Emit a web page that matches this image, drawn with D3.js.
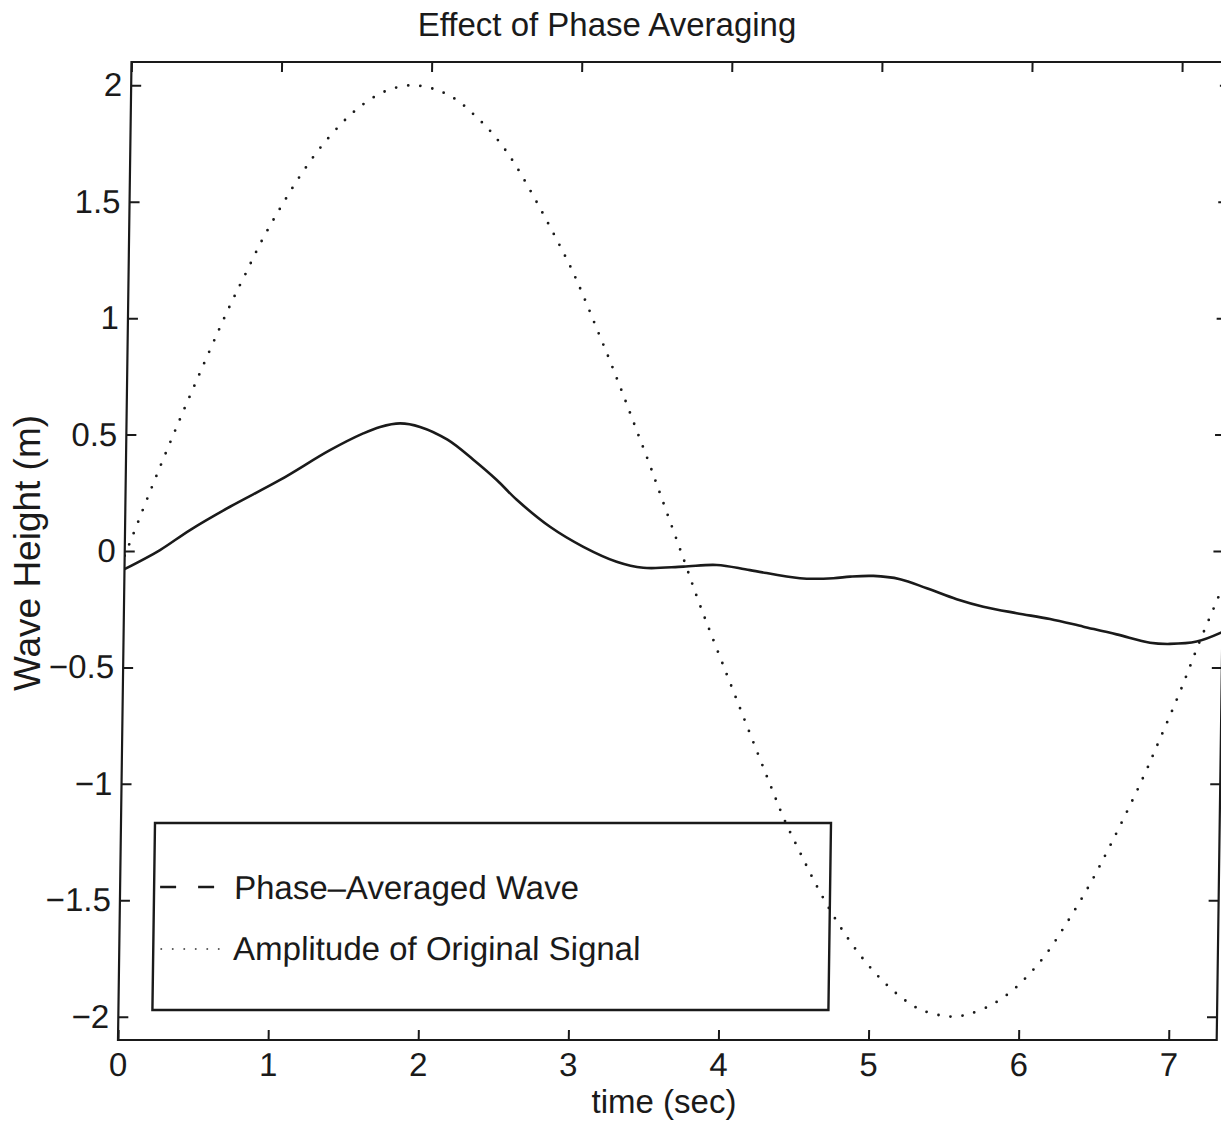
<!DOCTYPE html>
<html>
<head>
<meta charset="utf-8">
<script src="https://cdn.jsdelivr.net/npm/d3@7"></script>
<style>
  html, body { margin: 0; padding: 0; background: #ffffff; }
</style>
</head>
<body>
<svg id="chart" width="1221" height="1127"></svg>
<script>
// ---------------- data ----------------
const titleText = "Effect of Phase Averaging";
const xLabelText = "time (sec)";
const yLabelText = "Wave Height (m)";
const seriesNames = ["Phase\u2013Averaged Wave", "Amplitude of Original Signal"];

const xTicks = [0, 1, 2, 3, 4, 5, 6, 7];
const yTicks = [-2, -1.5, -1, -0.5, 0, 0.5, 1, 1.5, 2];
const xDomain = [0, 7.32];
const yDomain = [-2.1, 2.1];

// Phase-averaged wave (solid line)
const avgTime = [0.00, 0.235, 0.433, 0.697, 1.028, 1.358, 1.578, 1.69, 1.823, 1.956,
  2.14, 2.314, 2.472, 2.607, 2.831, 3.055, 3.278, 3.456, 3.723, 3.945,
  4.167, 4.501, 4.723, 4.835, 4.99, 5.168, 5.347, 5.547, 5.725, 5.948,
  6.171, 6.394, 6.616, 6.839, 6.972, 7.15, 7.32];
const avgHeight = [-0.078, 0.004, 0.09, 0.19, 0.305, 0.433, 0.505, 0.533, 0.548, 0.533,
  0.478, 0.392, 0.305, 0.22, 0.104, 0.018, -0.046, -0.072, -0.067, -0.06,
  -0.082, -0.117, -0.117, -0.11, -0.107, -0.121, -0.16, -0.207, -0.239, -0.267,
  -0.292, -0.325, -0.358, -0.394, -0.399, -0.389, -0.348];

// Amplitude of original signal (dotted line)
const origTime = [0.00, 0.045, 0.163, 0.283, 0.41, 0.67, 0.776, 0.884, 1.003, 1.129,
  1.272, 1.434, 1.559, 1.703, 1.862, 2.023, 2.17, 2.296, 2.41, 2.558,
  2.918, 3.023, 3.119, 3.215, 3.307, 3.397, 3.487, 3.573, 3.718, 3.831,
  3.953, 4.325, 4.424, 4.531, 4.645, 4.77, 4.861, 4.961, 5.071, 5.195,
  5.332, 5.492, 5.572, 5.659, 5.811, 5.95, 6.068, 6.175, 6.30, 6.45,
  6.60, 6.798, 6.925, 7.05, 7.167, 7.29, 7.32];
const origHeight = [-0.02, 0.055, 0.255, 0.451, 0.651, 1.042, 1.186, 1.332, 1.471, 1.606,
  1.737, 1.855, 1.924, 1.977, 2.0, 1.983, 1.937, 1.868, 1.794, 1.667,
  1.253, 1.109, 0.963, 0.817, 0.67, 0.522, 0.375, 0.226, -0.024, -0.222,
  -0.419, -1.009, -1.16, -1.3, -1.443, -1.582, -1.67, -1.755, -1.834, -1.907,
  -1.966, -1.996, -1.999, -1.99, -1.951, -1.89, -1.815, -1.732, -1.608, -1.444,
  -1.255, -0.984, -0.79, -0.594, -0.394, -0.199, -0.15];

// ---------------- drawing ----------------
const ink = "#1a1a1a";
const fontFamily = "'Liberation Sans', Arial, Helvetica, sans-serif";
const fontSize = 33;

const svg = d3.select("#chart");

const x = d3.scaleLinear().domain(xDomain).range([118, 1216.7]);
const y = d3.scaleLinear().domain(yDomain).range([1040, 62]);

// the scanned original is slightly slanted: reproduce with a small skew
const skew = -0.0138;
const g = svg.append("g")
  .attr("transform", `matrix(1,0,${skew},1,${-skew * y.range()[0]},0)`);

const [x0, x1] = x.range();
const [yb, yt] = y.range();

g.append("clipPath").attr("id", "plotclip")
  .append("rect")
  .attr("x", x0).attr("y", yt)
  .attr("width", x1 - x0).attr("height", yb - yt);

const toPts = (ts, vs) => ts.map((t, i) => [t, vs[i]]);
const line = d3.line()
  .x(d => x(d[0]))
  .y(d => y(d[1]))
  .curve(d3.curveCatmullRom.alpha(0.5));

// dotted: amplitude of original signal
g.append("path")
  .datum(toPts(origTime, origHeight))
  .attr("d", line)
  .attr("fill", "none")
  .attr("stroke", ink)
  .attr("stroke-width", 2.8)
  .attr("stroke-linecap", "round")
  .attr("stroke-dasharray", "0 12.2")
  .attr("clip-path", "url(#plotclip)");

// solid: phase-averaged wave
g.append("path")
  .datum(toPts(avgTime, avgHeight))
  .attr("d", line)
  .attr("fill", "none")
  .attr("stroke", ink)
  .attr("stroke-width", 2.6)
  .attr("stroke-linejoin", "round")
  .attr("clip-path", "url(#plotclip)");

// axes (MATLAB style: inward ticks on all four sides)
const fmt = d3.format("~g");
function styleAxis(sel) {
  sel.select(".domain").remove();
  sel.selectAll(".tick line").attr("stroke", ink).attr("stroke-width", 2);
  sel.selectAll(".tick text")
    .attr("fill", ink)
    .style("font-family", fontFamily)
    .style("font-size", fontSize + "px");
}

g.append("g").attr("transform", `translate(0,${yb})`)
  .call(d3.axisBottom(x).tickValues(xTicks).tickSize(-10).tickPadding(13).tickFormat(fmt))
  .call(styleAxis);
g.append("g").attr("transform", `translate(0,${yt})`)
  .call(d3.axisTop(x).tickValues(xTicks).tickSize(-10).tickFormat(() => ""))
  .call(styleAxis);
g.append("g").attr("transform", `translate(${x0},0)`)
  .call(d3.axisLeft(y).tickValues(yTicks).tickSize(-10).tickPadding(9).tickFormat(fmt))
  .call(styleAxis);
g.append("g").attr("transform", `translate(${x1},0)`)
  .call(d3.axisRight(y).tickValues(yTicks).tickSize(-10).tickFormat(() => ""))
  .call(styleAxis);

// frame
g.append("rect")
  .attr("x", x0).attr("y", yt)
  .attr("width", x1 - x0).attr("height", yb - yt)
  .attr("fill", "none")
  .attr("stroke", ink)
  .attr("stroke-width", 2.2);

// legend
const leg = g.append("g");
leg.append("rect")
  .attr("x", 152).attr("y", 823)
  .attr("width", 676).attr("height", 187)
  .attr("fill", "none")
  .attr("stroke", ink)
  .attr("stroke-width", 2.4);
leg.append("line")
  .attr("x1", 158).attr("x2", 212).attr("y1", 887).attr("y2", 887)
  .attr("stroke", ink).attr("stroke-width", 2.4)
  .attr("stroke-dasharray", "16 22");
leg.append("line")
  .attr("x1", 160).attr("x2", 218).attr("y1", 949).attr("y2", 949)
  .attr("stroke", "#555").attr("stroke-width", 2)
  .attr("stroke-linecap", "round")
  .attr("stroke-dasharray", "0 11.5");
leg.selectAll("text.leg")
  .data(seriesNames)
  .join("text")
  .attr("class", "leg")
  .attr("x", 232)
  .attr("y", (d, i) => 899 + i * 61)
  .attr("fill", ink)
  .style("font-family", fontFamily)
  .style("font-size", fontSize + "px")
  .text(d => d);

// title & axis labels
svg.append("text")
  .attr("x", 607).attr("y", 36)
  .attr("text-anchor", "middle")
  .attr("fill", ink)
  .style("font-family", fontFamily)
  .style("font-size", fontSize + "px")
  .text(titleText);

svg.append("text")
  .attr("x", 664).attr("y", 1113)
  .attr("text-anchor", "middle")
  .attr("fill", ink)
  .style("font-family", fontFamily)
  .style("font-size", fontSize + "px")
  .text(xLabelText);

svg.append("text")
  .attr("transform", "translate(40,553) rotate(-90)")
  .attr("text-anchor", "middle")
  .attr("fill", ink)
  .style("font-family", fontFamily)
  .style("font-size", "37px")
  .text(yLabelText);
</script>
</body>
</html>
